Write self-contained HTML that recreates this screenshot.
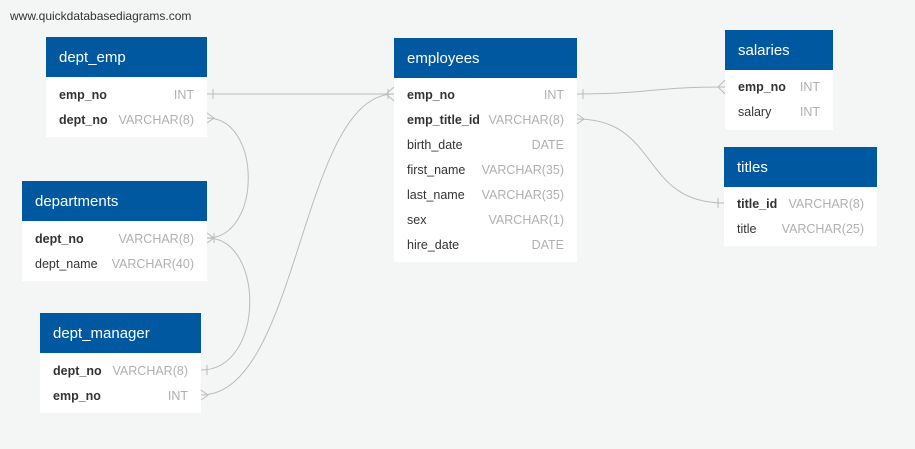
<!DOCTYPE html>
<html><head><meta charset="utf-8"><style>
body{margin:0;width:915px;height:449px;background:#f4f5f5;position:relative;overflow:hidden;font-family:"Liberation Sans",Arial,sans-serif}
.t{position:absolute;background:#fff}
.h{background:#0059a0;color:#fff;font-size:15px;height:40px;line-height:41px;padding-left:13px}
.r{position:relative;height:25px;line-height:25px;font-size:12.5px;color:#333;padding-left:13px}
.r b{font-weight:bold;color:#333}
.r span{position:absolute;right:13px;top:0;color:#b0b0b0}
.wm{position:absolute;left:10px;top:9px;font-size:12px;color:#333}
svg{position:absolute;left:0;top:0}
</style></head><body>
<div class="wm">www.quickdatabasediagrams.com</div>

<div class="t" style="left:46px;top:37px;width:161px;height:100px">
<div class="h">dept_emp</div><div style="height:6px"></div>
<div class="r"><b>emp_no</b><span>INT</span></div>
<div class="r"><b>dept_no</b><span>VARCHAR(8)</span></div>
</div>

<div class="t" style="left:22px;top:181px;width:185px;height:100px">
<div class="h">departments</div><div style="height:6px"></div>
<div class="r"><b>dept_no</b><span>VARCHAR(8)</span></div>
<div class="r">dept_name<span>VARCHAR(40)</span></div>
</div>

<div class="t" style="left:40px;top:313px;width:161px;height:100px">
<div class="h">dept_manager</div><div style="height:6px"></div>
<div class="r"><b>dept_no</b><span>VARCHAR(8)</span></div>
<div class="r"><b>emp_no</b><span>INT</span></div>
</div>

<div class="t" style="left:394px;top:38px;width:183px;height:224px">
<div class="h">employees</div><div style="height:5px"></div>
<div class="r"><b>emp_no</b><span>INT</span></div>
<div class="r"><b>emp_title_id</b><span>VARCHAR(8)</span></div>
<div class="r">birth_date<span>DATE</span></div>
<div class="r">first_name<span>VARCHAR(35)</span></div>
<div class="r">last_name<span>VARCHAR(35)</span></div>
<div class="r">sex<span>VARCHAR(1)</span></div>
<div class="r">hire_date<span>DATE</span></div>
</div>

<div class="t" style="left:725px;top:30px;width:108px;height:100px">
<div class="h">salaries</div><div style="height:5px"></div>
<div class="r"><b>emp_no</b><span>INT</span></div>
<div class="r">salary<span>INT</span></div>
</div>

<div class="t" style="left:724px;top:147px;width:153px;height:99px">
<div class="h">titles</div><div style="height:5px"></div>
<div class="r"><b>title_id</b><span>VARCHAR(8)</span></div>
<div class="r">title<span>VARCHAR(25)</span></div>
</div>

<svg width="915" height="449" fill="none" stroke="#bbb" stroke-width="1">
<path d="M207,94 L394,94"/>
<path d="M213,89 V99"/>
<path d="M386,94 L394,87 M386,94 L394,101 M388,89 V99"/>
<path d="M207,118 C262,118 262,238 207,238"/>
<path d="M207,113 L214,118 L207,123"/>
<path d="M207,238 C265,238 265,370 201,370"/>
<path d="M207,233 L214,238 L207,243 M214,233 V243"/>
<path d="M207,365 V375"/>
<path d="M201,395 C300,395 300,94 394,94"/>
<path d="M201,390 L208,395 L201,400"/>
<path d="M577,94 C650,94 650,87 725,87"/>
<path d="M583,89 V99"/>
<path d="M725,80 L718,87 L725,94"/>
<path d="M577,119 C660,119 640,203 724,203"/>
<path d="M577,114 L584,119 L577,124"/>
<path d="M718,198 V208"/>
</svg>
</body></html>
